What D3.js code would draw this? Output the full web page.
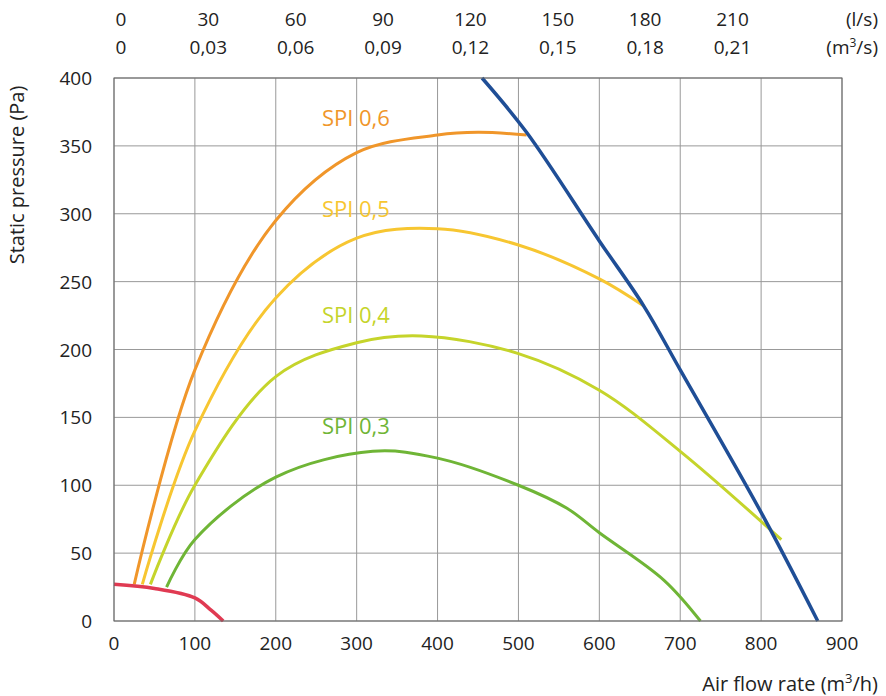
<!DOCTYPE html>
<html><head><meta charset="utf-8">
<script src="https://cdn.jsdelivr.net/npm/d3@7"></script>
<style>body{margin:0;background:#fff}text{font-family:"Open Sans",sans-serif;fill:#222}</style>
</head><body><svg id="c" width="886" height="696"></svg>
<script>
var xTicks = [0,100,200,300,400,500,600,700,800,900];
var yTicks = [0,50,100,150,200,250,300,350,400];
var lsTicks = [0,30,60,90,120,150,180,210];
var m3sTicks = ["0","0,03","0,06","0,09","0,12","0,15","0,18","0,21"];
var spi06 = [[25,27],[100,185],[200,295],[300,345],[400,358],[450,360],[510,358]];
var spi05 = [[35,27],[100,140],[200,238],[300,282],[400,289],[500,277],[600,252],[655,232]];
var spi04 = [[45,27],[100,100],[200,180],[300,205],[380,210],[500,197],[600,170],[700,125],[825,60]];
var spi03 = [[65,25],[100,60],[200,106],[320,125],[400,120],[500,100],[560,83],[600,65],[680,30],[725,0]];
var systemCurve = [[455,400],[510,360],[600,280],[655,232],[700,185],[800,80],[870,0]];
var leak = [[0,27],[50,24],[100,17],[120,8],[135,0]];
var spiLabels = [["SPI 0,6",360,spi06,"#f0962a"],["SPI 0,5",293,spi05,"#f7c631"],["SPI 0,4",215,spi04,"#c5d42b"],["SPI 0,3",133,spi03,"#6fb536"]];

var svg = d3.select("#c"),
    x = d3.scaleLinear().domain([0,900]).range([114,842]),
    y = d3.scaleLinear().domain([0,400]).range([621,78]);

svg.append("g").selectAll("line").data(xTicks).enter().append("line")
    .attr("x1", function (d) { return x(d); }).attr("x2", function (d) { return x(d); })
    .attr("y1", y(0)).attr("y2", y(400)).attr("stroke", "#999").attr("stroke-width", 1);
svg.append("g").selectAll("line").data(yTicks).enter().append("line")
    .attr("x1", x(0)).attr("x2", x(900))
    .attr("y1", function (d) { return y(d); }).attr("y2", function (d) { return y(d); })
    .attr("stroke", "#999").attr("stroke-width", 1);

svg.selectAll(".xl").data(xTicks).enter().append("text")
    .attr("x", function (d) { return x(d); }).attr("y", 650)
    .attr("text-anchor", "middle").attr("font-size", 19).text(function (d) { return d; });
svg.selectAll(".yl").data(yTicks).enter().append("text")
    .attr("x", 92).attr("y", function (d) { return y(d) + 7; })
    .attr("text-anchor", "end").attr("font-size", 19).text(function (d) { return d; });
svg.selectAll(".t1").data(lsTicks).enter().append("text")
    .attr("x", function (d) { return x(d * 3.6) + 7; }).attr("y", 26)
    .attr("text-anchor", "middle").attr("font-size", 19).text(function (d) { return d; });
svg.selectAll(".t2").data(m3sTicks).enter().append("text")
    .attr("x", function (d, i) { return x(lsTicks[i] * 3.6) + 7; }).attr("y", 54)
    .attr("text-anchor", "middle").attr("font-size", 19).text(function (d) { return d; });
svg.append("text").attr("x", 878).attr("y", 26).attr("text-anchor", "end").attr("font-size", 19).text("(l/s)");
var t = svg.append("text").attr("x", 878).attr("y", 54).attr("text-anchor", "end").attr("font-size", 19);
t.append("tspan").text("(m");
t.append("tspan").attr("font-size", 12).attr("dy", -7).text("3");
t.append("tspan").attr("dy", 7).text("/s)");

var xt = svg.append("text").attr("x", 878).attr("y", 691).attr("text-anchor", "end").attr("font-size", 20);
xt.append("tspan").text("Air flow rate (m");
xt.append("tspan").attr("font-size", 13).attr("dy", -8).text("3");
xt.append("tspan").attr("dy", 8).text("/h)");
svg.append("text").attr("transform", "translate(24,175) rotate(-90)")
    .attr("text-anchor", "middle").attr("font-size", 20).text("Static pressure (Pa)");

var line = d3.line().x(function (d) { return x(d[0]); }).y(function (d) { return y(d[1]); }).curve(d3.curveCatmullRom.alpha(0.5));
var draw = function (data, color, w) {
    svg.append("path").datum(data).attr("d", line).attr("fill", "none")
        .attr("stroke", color).attr("stroke-width", w || 3);
};
spiLabels.slice().reverse().forEach(function (s) { draw(s[2], s[3]); });
draw(leak, "#e03a52", 3.5);
draw(systemCurve, "#1f4e96", 3.5);

svg.selectAll(".spi").data(spiLabels).enter().append("text")
    .attr("x", x(257)).attr("y", function (d) { return y(d[1]) - 6; })
    .attr("font-size", 22).style("fill", function (d) { return d[3]; })
    .text(function (d) { return d[0]; });

svg.append("rect").attr("x", x(0)).attr("y", y(400)).attr("width", x(900) - x(0)).attr("height", y(0) - y(400))
    .attr("fill", "none").attr("stroke", "#666");
</script></body></html>
